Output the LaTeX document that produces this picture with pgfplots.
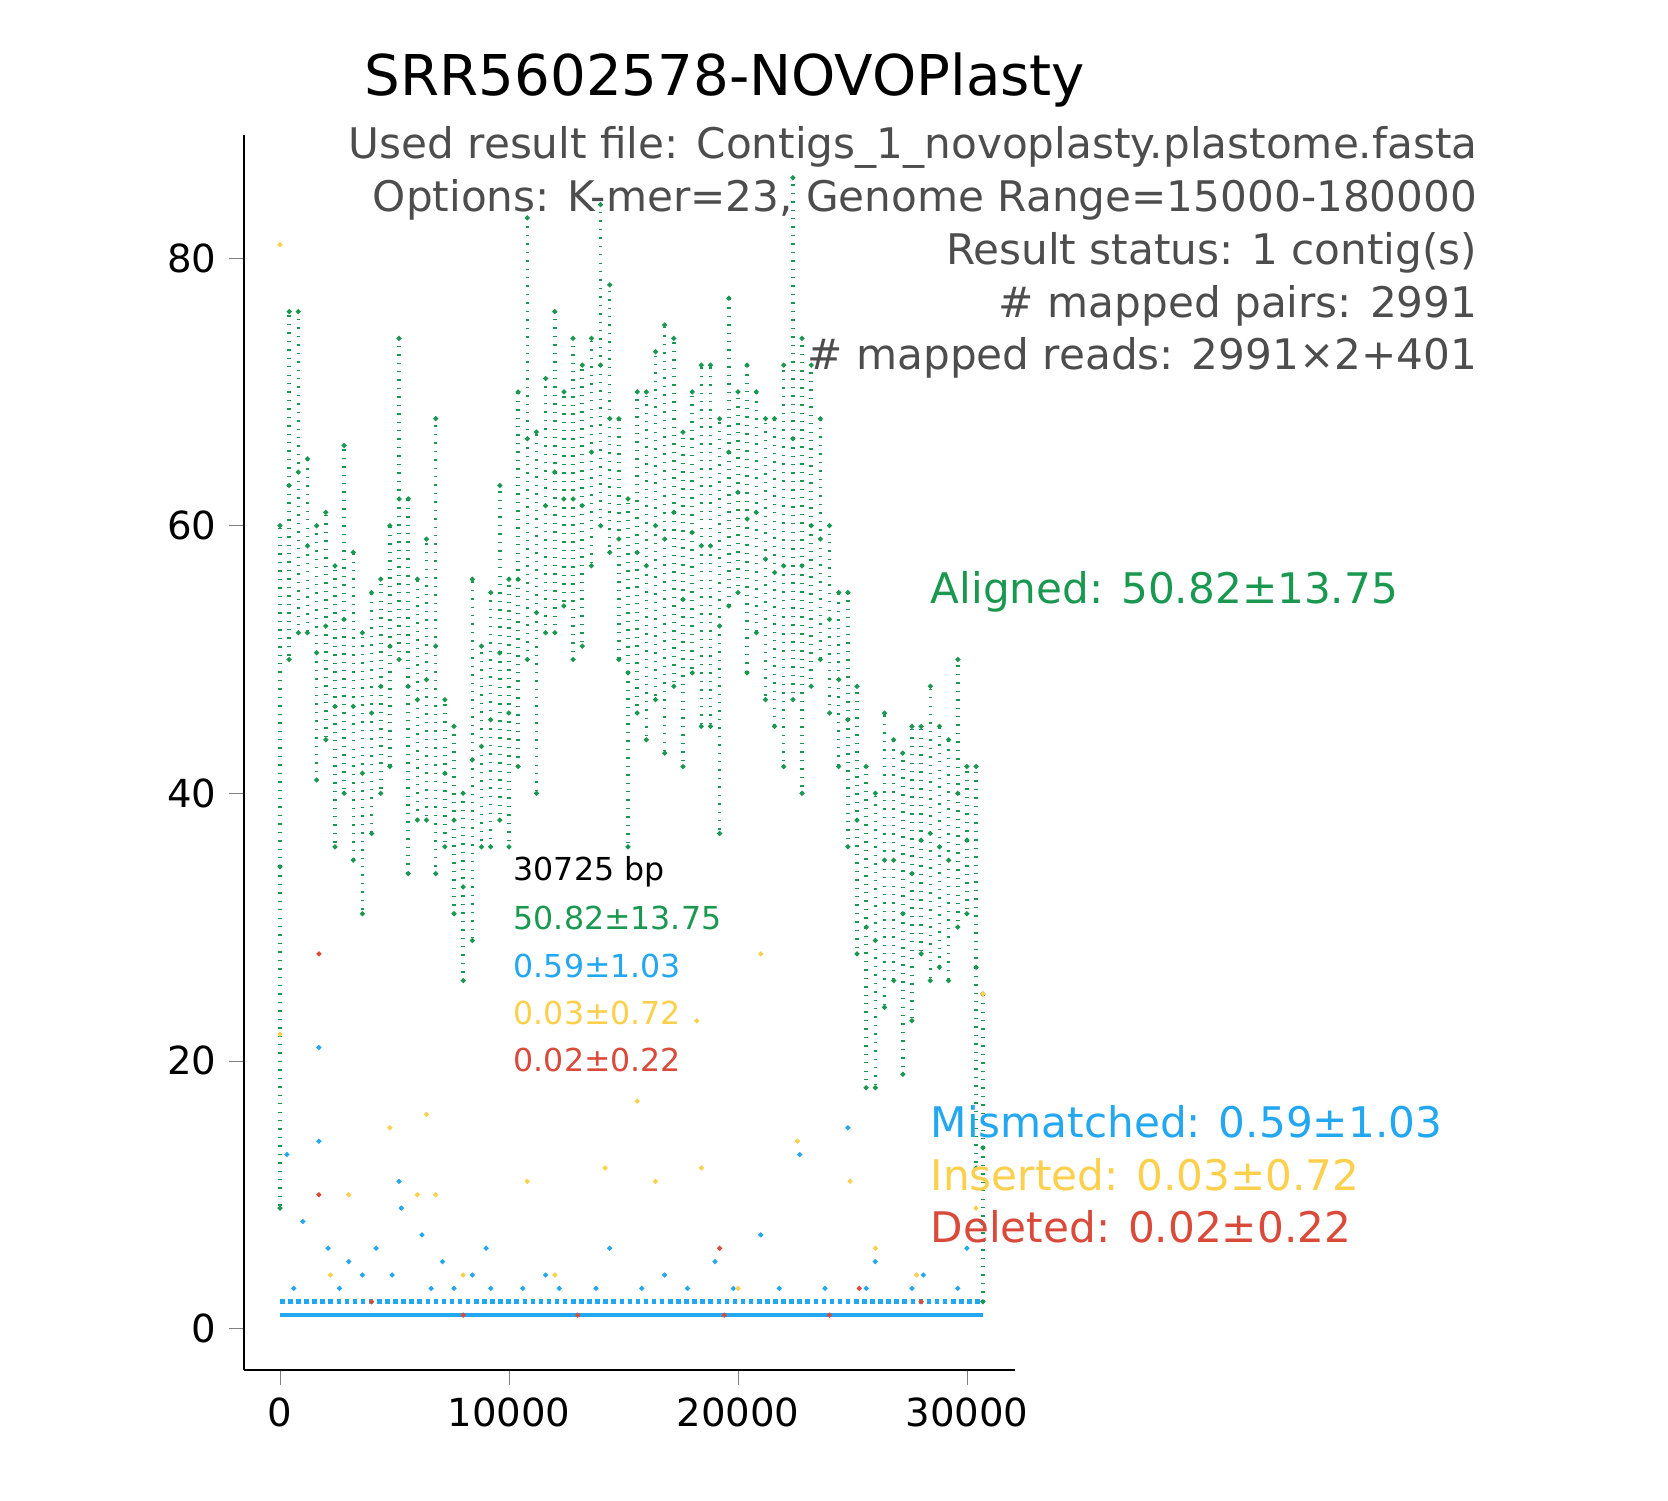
\documentclass[border=0pt]{standalone}
\usepackage{pgfplots}
\pgfplotsset{compat=1.18}
\usepackage{pgfplotstable}
\usepackage{fontspec}
\setmainfont{DejaVu Sans}
\definecolor{cg}{HTML}{1A9850}
\definecolor{cb}{HTML}{22A7F0}
\definecolor{cy}{HTML}{FCD04C}
\definecolor{cr}{HTML}{D94A3A}
\definecolor{cgray}{HTML}{4D4D4D}
\pgfplotstableread{
x lo hi
0 9 60
400 50 76
800 52 76
1200 52 65
1600 41 60
2000 44 61
2400 36 57
2800 40 66
3200 35 58
3600 31 52
4000 37 55
4400 40 56
4800 42 60
5200 50 74
5600 34 62
6000 38 56
6400 38 59
6800 34 68
7200 36 47
7600 31 45
8000 26 40
8400 29 56
8800 36 51
9200 36 55
9600 38 63
10000 36 56
10400 42 70
10800 50 83
11200 40 67
11600 52 71
12000 52 76
12400 54 70
12800 50 74
13200 51 72
13600 57 74
14000 60 84
14400 58 78
14800 50 68
15200 36 62
15600 46 70
16000 44 70
16400 47 73
16800 43 75
17200 48 74
17600 42 67
18000 49 70
18400 45 72
18800 45 72
19200 37 68
19600 54 77
20000 55 70
20400 49 72
20800 52 70
21200 47 68
21600 45 68
22000 42 72
22400 47 86
22800 40 74
23200 48 72
23600 50 68
24000 46 60
24400 42 55
24800 36 55
25200 28 48
25600 18 42
26000 18 40
26400 24 46
26800 26 44
27200 19 43
27600 23 45
28000 28 45
28400 26 48
28800 27 45
29200 26 44
29600 30 50
30000 31 42
30400 12 42
30700 2 25
}\aligned
\begin{document}
\begin{tikzpicture}
\begin{axis}[at={(2.44cm,1.30cm)}, anchor=south west, scale only axis,
 width=7.71cm, height=12.35cm,
 xmin=-1572, xmax=32100, ymin=-3.1, ymax=89.2,
 axis lines*=left, tick align=outside,
 xtick={0,10000,20000,30000}, ytick={0,20,40,60,80},
 scaled x ticks=false, /pgf/number format/assume math mode=true,
 xticklabel style={/pgf/number format/1000 sep={}},
 tick label style={font=\fontsize{11}{13}\selectfont},
 clip=false]
\addplot[only marks, mark=*, mark size=0.5pt, cg,
 error bars/.cd, y dir=both, y explicit, error bar style={cg, dotted, line width=1pt}, error mark=none]
 table[x=x, y expr=(\thisrow{lo}+\thisrow{hi})/2, y error expr=(\thisrow{hi}-\thisrow{lo})/2] {\aligned};
\addplot[only marks, mark=*, mark size=0.5pt, cg] table[x=x,y=lo] {\aligned};
\addplot[only marks, mark=*, mark size=0.5pt, cg] table[x=x,y=hi] {\aligned};
\addplot[cb, line width=1.3pt] coordinates {(0,1) (30700,1)};
\addplot[cb, line width=1.3pt, densely dotted] coordinates {(0,2) (30700,2)};
\addplot[only marks, mark=*, mark size=0.5pt, cb] coordinates {
(300,13) (1700,14) (1700,21) (1000,8) (2100,6) (3000,5) (4200,6) (5200,11) (5300,9) (6200,7) (7100,5) (8400,4) (9000,6) (11600,4) (14400,6) (16800,4) (19000,5) (21000,7) (22700,13) (24800,15) (26000,5) (28100,4) (30000,6) (30600,8)
(600,3) (2600,3) (3600,4) (4900,4) (6600,3) (7600,3) (9200,3) (10600,3) (12200,3) (13800,3) (15800,3) (17800,3) (19800,3) (21800,3) (23800,3) (25600,3) (27600,3) (29600,3)};
\addplot[only marks, mark=*, mark size=0.5pt, cy] coordinates {
(0,81) (0,22) (4800,15) (6400,16) (3000,10) (6000,10) (6800,10) (10800,11) (14200,12) (15600,17) (16400,11) (18400,12) (18200,23) (21000,28) (22600,14) (24900,11) (30700,25) (30400,9) (2200,4) (8000,4) (12000,4) (20000,3) (26000,6) (27800,4)};
\addplot[only marks, mark=*, mark size=0.5pt, cr] coordinates {
(1700,28) (1700,10) (19200,6) (25300,3) (8000,1) (13000,1) (19400,1) (24000,1) (4000,2) (28000,2)};
\end{axis}
\node[anchor=center, font=\fontsize{16}{19}\selectfont] at (7.25,14.2) {SRR5602578-NOVOPlasty};
\begin{scope}[every node/.style={anchor=base east, text=cgray, font=\fontsize{12}{14}\selectfont, inner sep=0}]
\node at (14.78,13.41) {Used result file: Contigs\_1\_novoplasty.plastome.fasta};
\node at (14.78,12.88) {Options: K-mer=23, Genome Range=15000-180000};
\node at (14.78,12.35) {Result status: 1 contig(s)};
\node at (14.78,11.82) {\# mapped pairs: 2991};
\node at (14.78,11.30) {\# mapped reads: 2991×2+401};
\end{scope}
\begin{scope}[every node/.style={anchor=west, font=\fontsize{12}{14}\selectfont, inner sep=0}]
\node[text=cg] at (9.3,9.08) {Aligned: 50.82±13.75};
\node[text=cb] at (9.3,3.78) {Mismatched: 0.59±1.03};
\node[text=cy] at (9.3,3.25) {Inserted: 0.03±0.72};
\node[text=cr] at (9.3,2.73) {Deleted: 0.02±0.22};
\end{scope}
\begin{scope}[every node/.style={anchor=west, font=\fontsize{9}{11}\selectfont, inner sep=0}]
\node at (5.13,6.28) {30725 bp};
\node[text=cg] at (5.13,5.82) {50.82±13.75};
\node[text=cb] at (5.13,5.34) {0.59±1.03};
\node[text=cy] at (5.13,4.87) {0.03±0.72};
\node[text=cr] at (5.13,4.40) {0.02±0.22};
\end{scope}
\pgfresetboundingbox
\path[use as bounding box] (0,0) rectangle (16.68,15);
\end{tikzpicture}
\end{document}
